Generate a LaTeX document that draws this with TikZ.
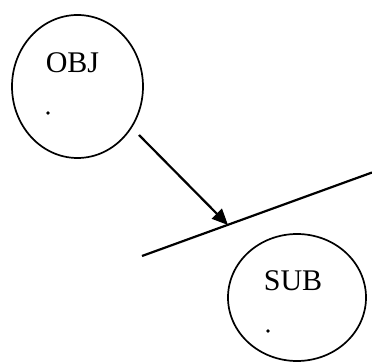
\documentclass[tikz,border=0pt]{standalone}
\usepackage{fontspec}
\setmainfont{Liberation Serif}
\usetikzlibrary{arrows.meta,shapes.geometric}

\begin{document}
\begin{tikzpicture}[x=1pt,y=1pt]
\tikzset{
  every node/.style={inner sep=0pt},
  blob/.style={draw,ellipse,line width=1.7pt},
  lbl/.style={font=\fontsize{30}{30}\selectfont},
  wire/.style={line width=2.2pt}
}
\useasboundingbox (0,0) rectangle (372,-363);

% object and subject
\node [blob, minimum width=131, minimum height=143] (obj) at (77.5,-86.5) {};
\node [lbl] (objtxt) at (72.5,-63) {OBJ};
\fill (obj.center) ++(-29.5,-26.5) circle (1.8);

\node [blob, minimum width=138, minimum height=127] (sub) at (297,-297.5) {};
\node [lbl] (subtxt) at (293,-281) {SUB};
\fill (sub.center) ++(-29,-33.5) circle (1.8);

% surface line and incoming ray
\coordinate (s1) at (142,-256);
\coordinate (s2) at (372,-172.5);
\coordinate (r1) at (139,-135);
\coordinate (r2) at (228,-225);
\draw [wire] (s1) -- (s2);
\draw [wire, -{Triangle[length=16pt,width=14pt]}] (r1) -- (r2);
\end{tikzpicture}
\end{document}
